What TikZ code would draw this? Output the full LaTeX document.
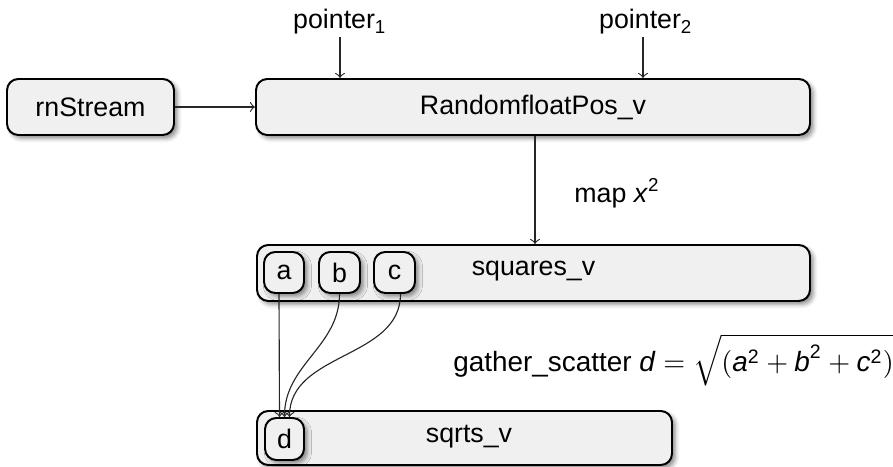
\documentclass[tikz,border=0pt]{standalone}
\usepackage{amsmath}
\usepackage{fontspec}
\setmainfont{Liberation Sans}
\usetikzlibrary{shadows.blur,calc}
\def\u{0.355pt}
\tikzset{
  box/.style={draw=black, line width=0.7pt, rounded corners=4pt, fill=black!6,
    inner sep=0pt, blur shadow={shadow xshift=1.2pt, shadow yshift=-1.2pt, shadow blur radius=1.5pt, shadow opacity=45}},
  lbl/.style={inner sep=1pt},
  conn/.style={->, line width=0.4pt, draw=black!85}
}
\begin{document}
\begin{tikzpicture}[x=0.355pt,y=-0.355pt, font=\fontsize{9.5pt}{11.4pt}\selectfont]
\useasboundingbox (0,0) rectangle (893,467);
% boxes
\node[box, minimum width=167*\u, minimum height=56*\u] (rn) at (90.5,107) {rnStream};
\node[box, minimum width=554*\u, minimum height=56*\u] (rand) at (533,107) {RandomfloatPos\_v};
\node[box, minimum width=553*\u, minimum height=56*\u] (sq) at (533.5,273) {};
\node[box, minimum width=415*\u, minimum height=54*\u] (sr) at (464.5,438) {};
\node[lbl] (sqt) at (533.5,271) {squares\_v};
\node[lbl] (srt) at (469,437) {sqrts\_v};
\node[box, minimum width=40*\u, minimum height=41*\u] (a) at (284,272.5) {a};
\node[box, minimum width=41*\u, minimum height=41*\u] (b) at (339.5,272.5) {b};
\node[box, minimum width=41*\u, minimum height=41*\u] (c) at (394.5,272.5) {c};
\node[box, minimum width=39*\u, minimum height=42*\u] (d) at (284.5,439) {d};
% labels
\node[lbl] (p1) at (340,22) {pointer\textsubscript{1}};
\node[lbl] (p2) at (646,22) {pointer\textsubscript{2}};
\node[lbl, anchor=west] (map) at (571,193) {map \textit{x}\textsuperscript{2}};
\node[lbl, anchor=west, font=\fontsize{9.9pt}{11.8pt}\selectfont] (gs) at (450,360) {gather\_scatter \textit{d} $= \sqrt{(\textit{a}^{\text{2}} + \textit{b}^{\text{2}} + \textit{c}^{\text{2}})}$};
% connectors
\draw[conn] (rn) -- (rand);
\draw[conn] (340,37) coordinate (p1s) -- (p1s |- rand.north);
\draw[conn] (643,37) coordinate (p2s) -- (p2s |- rand.north);
\draw[conn] ([xshift=2*\u]rand.south) -- ([xshift=2*\u]rand.south |- sq.north);
\draw[conn] ([xshift=-5*\u]a.south) -- ([xshift=-5*\u]d.north);
\draw[conn] (b.south) to[out=-90,in=90] (d.north);
\draw[conn] ([xshift=6*\u]c.south) to[out=-90,in=90] ([xshift=5*\u]d.north);
\end{tikzpicture}
\end{document}
